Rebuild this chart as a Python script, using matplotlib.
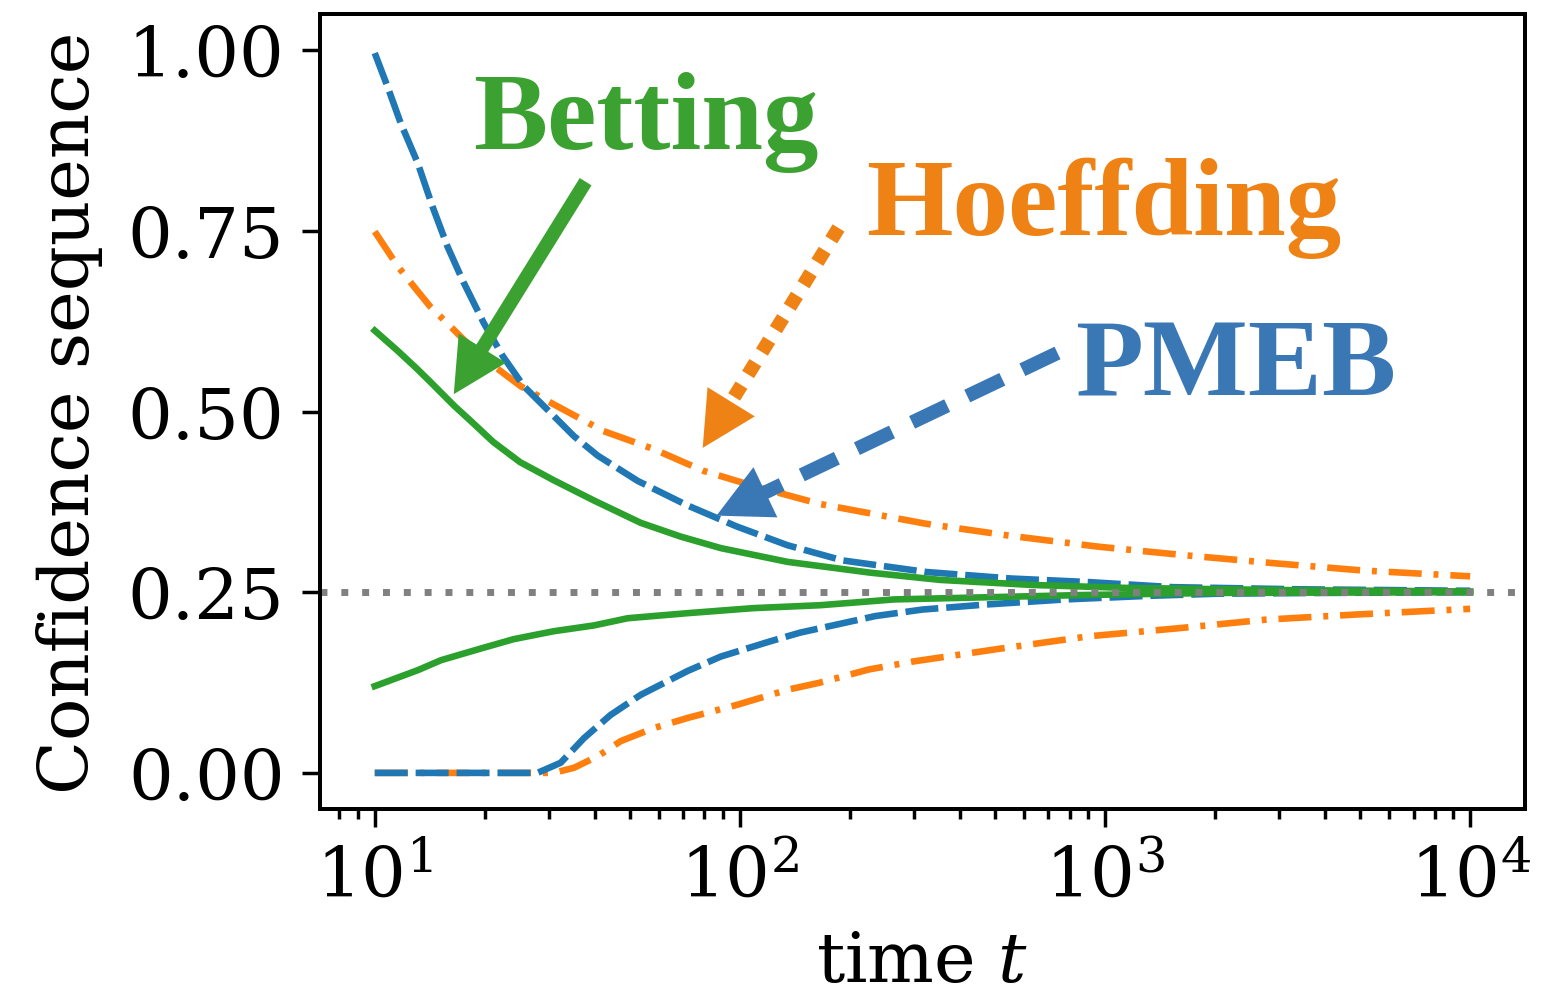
import numpy as np
import matplotlib.pyplot as plt
from matplotlib.ticker import FormatStrFormatter

plt.rcParams['font.family'] = 'serif'
plt.rcParams['font.serif'] = ['DejaVu Serif']
plt.rcParams['mathtext.fontset'] = 'dejavuserif'
plt.rcParams['font.size'] = 20.3

# confidence sequence bounds read over time t
t_pmeb_up = [10, 10.85, 11.78, 13.11, 14.41, 15.83, 17.5, 19.86, 22.4, 25.6, 30.9, 35.1,
             40.8, 52.5, 71.9, 98, 135, 191, 324, 551, 903, 1530, 3440, 10000]
pmeb_up = [0.996, 0.949, 0.899, 0.844, 0.783, 0.728, 0.679, 0.623, 0.577, 0.535, 0.494, 0.466,
           0.439, 0.404, 0.370, 0.341, 0.315, 0.294, 0.278, 0.269, 0.264, 0.257, 0.254, 0.252]
t_pmeb_lo = [10, 20, 27.9, 32.3, 37.4, 44.2, 53.5, 71.9, 88.7, 121, 146, 235, 316, 473,
             777, 1320, 2050, 4000, 10000]
pmeb_lo = [0, 0, 0, 0.014, 0.048, 0.080, 0.108, 0.141, 0.161, 0.182, 0.194, 0.217, 0.226, 0.233,
           0.240, 0.245, 0.248, 0.249, 0.250]

t_hoef_up = [10, 11.56, 12.8, 14.2, 16.1, 18.3, 21.2, 25.1, 30.9, 42.3, 58.1, 79.4, 109, 166,
             321, 551, 959, 1667, 2924, 5094, 10000]
hoef_up = [0.749, 0.701, 0.673, 0.645, 0.618, 0.590, 0.563, 0.535, 0.510, 0.473, 0.448, 0.418,
           0.397, 0.372, 0.345, 0.328, 0.313, 0.301, 0.290, 0.280, 0.272]
t_hoef_lo = [10, 20, 30.9, 35.1, 40.8, 47.2, 58.1, 71.9, 98, 135, 166, 225, 297, 518, 903,
             1578, 2748, 4821, 10000]
hoef_lo = [0, 0, 0, 0.007, 0.023, 0.044, 0.062, 0.076, 0.094, 0.115, 0.125, 0.143, 0.154, 0.172,
           0.189, 0.200, 0.212, 0.219, 0.227]

t_bet_up = [10, 11.5, 13.0, 14.2, 16.5, 18.5, 21.1, 25.0, 30.9, 39.8, 53.5, 68.8, 88.7, 135,
            228, 354, 634, 1140, 3000, 10000]
bet_up = [0.612, 0.585, 0.560, 0.541, 0.508, 0.485, 0.458, 0.430, 0.405, 0.377, 0.346, 0.327,
          0.311, 0.292, 0.277, 0.267, 0.260, 0.256, 0.253, 0.251]
t_bet_lo = [10, 13.1, 15.2, 19.5, 24.0, 30.9, 39.8, 49.3, 71.9, 109, 166, 264, 473, 850,
            2000, 10000]
bet_lo = [0.120, 0.142, 0.156, 0.172, 0.185, 0.196, 0.204, 0.214, 0.221, 0.228, 0.232, 0.240,
          0.243, 0.246, 0.249, 0.250]

true_mean = 0.25

fig = plt.figure(figsize=(6.204, 4.012), dpi=250)
ax = fig.add_axes([0.2063, 0.1924, 0.7769, 0.7926])

ax.plot(t_hoef_up, hoef_up, color='tab:orange', lw=1.9, ls=(0, (5.0, 1.8, 0.75, 1.8)))
ax.plot(t_hoef_lo, hoef_lo, color='tab:orange', lw=1.9, ls=(0, (5.0, 1.8, 0.75, 1.8)))
ax.plot(t_pmeb_up, pmeb_up, color='tab:blue', lw=1.9, ls=(0, (5.0, 1.2)))
ax.plot(t_pmeb_lo, pmeb_lo, color='tab:blue', lw=1.9, ls=(0, (5.0, 1.2)))
ax.plot(t_bet_up, bet_up, color='tab:green', lw=1.9)
ax.plot(t_bet_lo, bet_lo, color='tab:green', lw=1.9)
ax.axhline(true_mean, color='gray', lw=2, ls=(0, (1, 2)))

ax.set_xscale('log')
ax.set_xlim(10 ** 0.85, 10 ** 4.15)
ax.set_ylim(-0.05, 1.05)
ax.set_yticks([0, 0.25, 0.5, 0.75, 1.0])
ax.yaxis.set_major_formatter(FormatStrFormatter('%.2f'))
ax.tick_params(which='major', length=5.2, width=1.0, pad=5)
ax.tick_params(which='minor', length=3, width=1.0)
for s in ax.spines.values():
    s.set_linewidth(1.15)
ax.set_xlabel('time $t$', labelpad=5)
ax.set_ylabel('Confidence sequence', labelpad=7)


def arrow(tail, tip, color, ls, lw=4, head_px=50):
    # shaft is a plain line, head is a filled FancyArrow on the last bit
    p0 = ax.transData.transform(tail)
    p1 = ax.transData.transform(tip)
    d = (p1 - p0) / np.hypot(*(p1 - p0))
    inv = ax.transData.inverted()
    base = inv.transform(p1 - d * head_px * 0.8)
    start = inv.transform(p1 - d * head_px * 2)
    ax.plot([tail[0], base[0]], [tail[1], base[1]], color=color, lw=lw, ls=ls,
            solid_capstyle='butt', dash_capstyle='butt')
    ax.annotate('', xy=tip, xytext=start,
                arrowprops=dict(arrowstyle='-|>,head_length=0.78,head_width=0.4',
                                mutation_scale=20, color=color, lw=0,
                                shrinkA=0, shrinkB=0))


green = '#3ba232'
orange = '#ef8215'
blue = '#3a77b5'

arrow((37.8, 0.818), (16.46, 0.524), green, '-')
arrow((186.3, 0.754), (79.1, 0.4497), orange, (0, (1, 0.9)))
arrow((741, 0.581), (86.3, 0.356), blue, (0, (2.8, 1.6)))

lab = dict(fontfamily='Liberation Serif', fontweight='bold', fontsize=32,
           ha='left', va='baseline')
ax.text(18.55, 0.865, 'Betting', color=green, **lab)
ax.text(222, 0.745, 'Hoeffding', color=orange, **lab)
ax.text(830, 0.524, 'PMEB', color=blue, **lab)

fig.savefig('out.png', dpi=250)
